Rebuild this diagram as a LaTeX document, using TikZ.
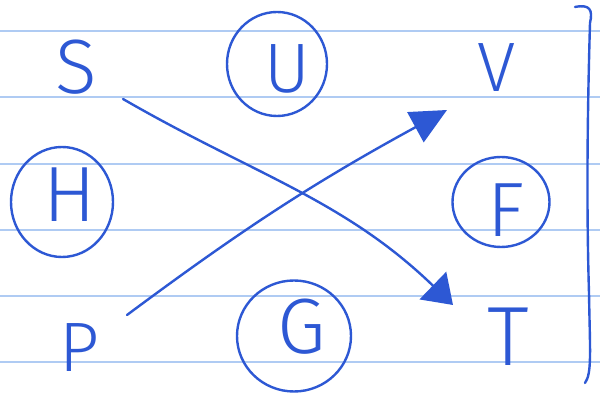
\documentclass[tikz,border=0pt]{standalone}
\usepackage{fontspec}
\newfontfamily\hand{Fira Sans}[UprightFont=* Light]
\usetikzlibrary{arrows.meta,shapes.geometric}
\definecolor{pen}{RGB}{45,88,212}
\definecolor{rule}{RGB}{175,203,243}
\tikzset{
  letter/.style={text=pen,font=\hand\fontsize{70}{70}\selectfont,inner sep=0pt},
  ring/.style={draw=pen,line width=2.4pt,ellipse,inner sep=0pt},
  ruled/.style={draw=rule,line width=2pt},
  penline/.style={draw=pen,line width=2.4pt,line cap=round,line join=round},
  arrowA/.style={penline,-{Triangle[length=28pt,width=38pt]}},
  arrowB/.style={penline,-{Triangle[length=36pt,width=34pt]}}
}
\begin{document}
\begin{tikzpicture}[x=1pt,y=1pt]
\useasboundingbox (0,0) rectangle (600,393);
\fill[white] (0,0) rectangle (600,393);
% ruled paper
\foreach \yy in {362,296,229,163,97,31}
  \draw[ruled] (0,\yy) -- (600,\yy);
% plain letters
\node[letter] (S) at (76,326) {\scalebox{1.1}{S}};
\node[letter] (V) at (497,325) {V};
\node[letter] (P) at (79,45) {P};
\node[letter] (T) at (508,56) {\scalebox{1.2}{T}};
% circled letters
\node[ring,minimum width=100pt,minimum height=104pt] (Uring) at (277,329) {};
\node[letter] (U) at (287,324) {U};
\node[ring,minimum width=102pt,minimum height=110pt] (Hring) at (62,191) {};
\node[letter] (H) at (70,198) {\scalebox{1.12}{H}};
\node[ring,minimum width=97pt,minimum height=90pt] (Fring) at (501,191) {};
\node[letter] (F) at (506,183) {\scalebox{1.1}{F}};
\node[ring,minimum width=114pt,minimum height=111pt] (Gring) at (294,57) {};
\node[letter] (G) at (302,66) {\scalebox{1.12}{G}};
% arrows
\draw[arrowA] ([shift={(47,-32)}]S.center) to[out=-30,in=136] ([shift={(-55,32)}]T.center);
\draw[arrowB] ([shift={(48,33)}]P.center) to[bend left=4] ([shift={(-50,-42)}]V.center);
% right bracket
\draw[penline] (575,386) .. controls (590,389) and (593,383) .. (590,370)
  .. controls (588,300) and (586,200) .. (589,100)
  .. controls (590,40) and (592,20) .. (585,10);
\end{tikzpicture}
\end{document}
